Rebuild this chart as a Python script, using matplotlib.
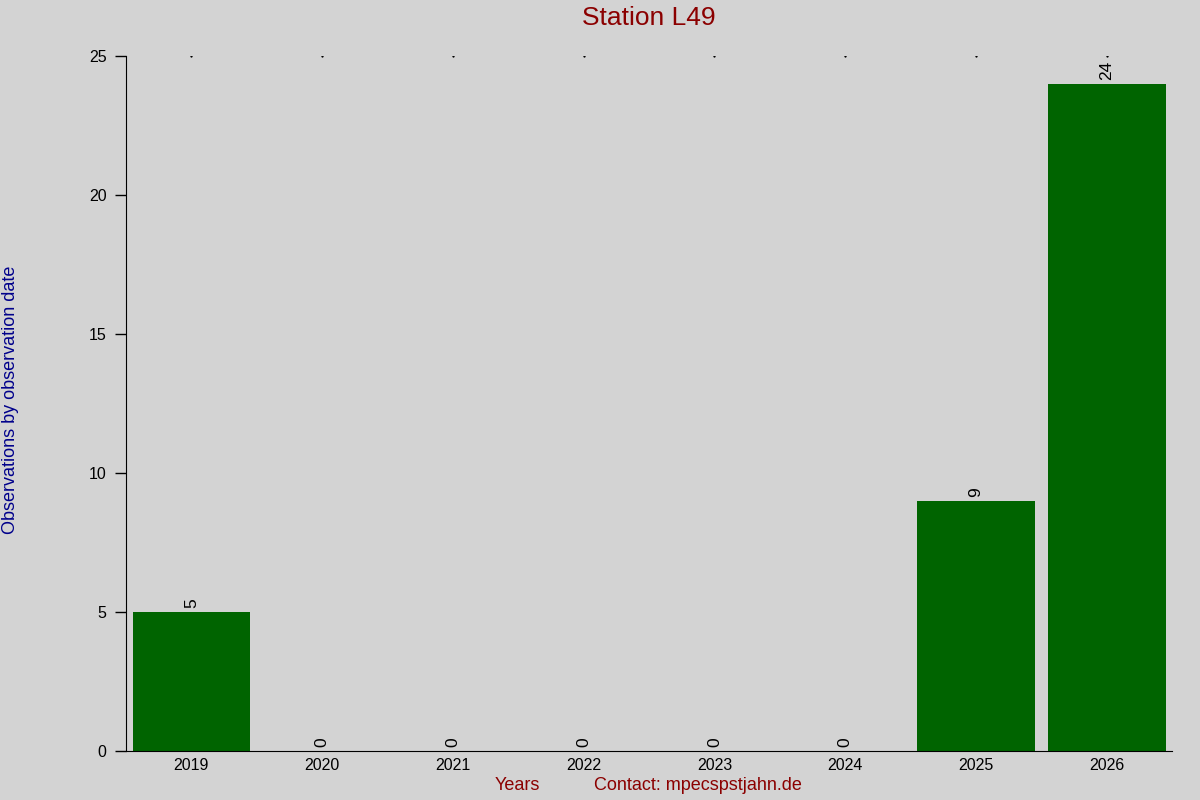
import matplotlib.pyplot as plt

plt.rcParams['font.family'] = ['Liberation Sans', 'DejaVu Sans']

# datos de la estacion
years = ["2019", "2020", "2021", "2022", "2023", "2024", "2025", "2026"]
counts = [5, 0, 0, 0, 0, 0, 9, 24]

fig = plt.figure(figsize=(12, 8), dpi=100, facecolor="#d3d3d3")
ax = fig.add_axes([0.105, 0.06125, 0.8717, 0.86875])
ax.set_facecolor("#d3d3d3")

x = list(range(len(years)))
ax.bar(x, counts, width=0.9, color="#006400")

# etiquetas de valor giradas encima de cada barra
for xi, c in zip(x, counts):
    ax.annotate(str(c), (xi, c), xytext=(0, 3), textcoords="offset points",
                rotation=90, ha="center", va="bottom", fontsize=12.5, color="black")

# puntitos en la parte superior
ax.plot(x, [25] * len(x), linestyle="none", marker="s", markersize=0.6, color="black")

ax.set_xlim(-0.5, 7.5)
ax.set_ylim(0, 25)
ax.set_xticks(x)
ax.set_xticklabels(years, fontsize=11.5)
ax.set_yticks([0, 5, 10, 15, 20, 25])
ax.tick_params(axis="x", length=0, pad=5)
ax.tick_params(axis="y", length=8, width=1, labelsize=11.5, pad=6)
ax.spines["top"].set_visible(False)
ax.spines["right"].set_visible(False)

fig.text(0.541, 0.978, "Station L49", ha="center", va="center", fontsize=19, color="#8b0000")
fig.text(0.009, 0.5, "Observations by observation date", rotation=90, ha="center",
         va="center", fontsize=13, color="#00008b")
fig.text(0.431, 0.0175, "Years", ha="center", va="center", fontsize=13, color="#8b0000")
fig.text(0.582, 0.0175, "Contact: mpecspstjahn.de", ha="center", va="center", fontsize=13,
         color="#8b0000")

plt.savefig("out.png", dpi=100, facecolor=fig.get_facecolor())
